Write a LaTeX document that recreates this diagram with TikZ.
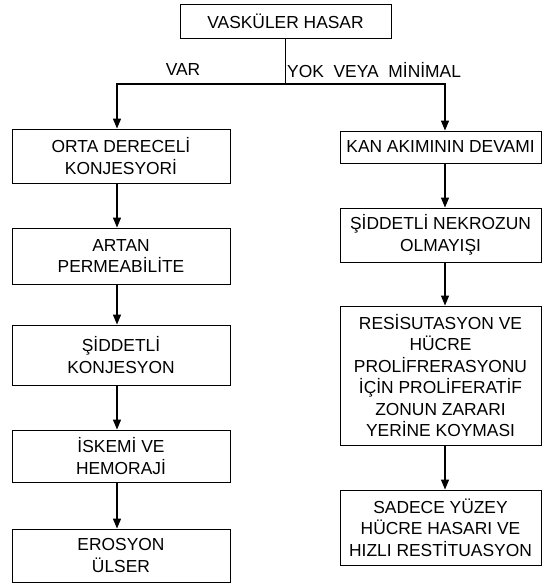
\documentclass[tikz,border=0pt]{standalone}
\usepackage{fontspec}
\setmainfont{Liberation Sans}
\usepackage{tikz}
\usetikzlibrary{arrows.meta}

\begin{document}
\begin{tikzpicture}[x=1pt, y=-1pt,
    >={Triangle[width=8pt,length=10pt]},
    box/.style={draw, rectangle, line width=0.9pt, align=center, inner sep=0pt,
        font=\fontsize{17.4}{21.5}\selectfont},
    lbl/.style={font=\fontsize{17.4}{21}\selectfont, inner sep=0pt},
    conn/.style={->, line width=1.3pt}]
    % Vaskuler hasar akis semasi
    \useasboundingbox (0,0) rectangle (545,588);

    \node (top) at (285.5,21) [box, minimum width=211pt, minimum height=34pt] {VASKÜLER HASAR};

    \node (l1) at (121,156) [box, minimum width=218pt, minimum height=54pt] {ORTA DERECELİ\\KONJESYORİ};
    \node (l2) at (121,256) [box, minimum width=218pt, minimum height=56pt] {ARTAN\\PERMEABİLİTE};
    \node (l3) at (121,355) [box, minimum width=218pt, minimum height=60pt] {ŞİDDETLİ\\KONJESYON};
    \node (l4) at (121,456) [box, minimum width=218pt, minimum height=52pt] {İSKEMİ VE\\HEMORAJİ};
    \node (l5) at (121,555.5) [box, minimum width=218pt, minimum height=53pt] {EROSYON\\ÜLSER};

    \node (r1) at (440.5,147) [box, minimum width=201pt, minimum height=32pt] {KAN AKIMININ DEVAMI};
    \node (r2) at (440.5,235) [box, minimum width=201pt, minimum height=54pt] {ŞİDDETLİ NEKROZUN\\OLMAYIŞI};
    \node (r3) at (440.5,375.5) [box, minimum width=201pt, minimum height=139pt] {RESİSUTASYON VE\\HÜCRE\\PROLİFRERASYONU\\İÇİN PROLİFERATİF\\ZONUN ZARARI\\YERİNE KOYMASI};
    \node (r4) at (440.5,527.5) [box, minimum width=201pt, minimum height=75pt] {SADECE YÜZEY\\HÜCRE HASARI VE\\HIZLI RESTİTUASYON};

    \node (var) at (183,70) [lbl] {VAR};
    \node (yok) at (287,70) [lbl, anchor=west] {YOK\ \ VEYA\ \ MİNİMAL};

    \coordinate (split) at (285.5,84);
    \draw [line width=1.1pt] (top) -- (split);
    \draw [conn] (split) -| ([xshift=-4pt]l1.north);
    \draw [conn] (split) -| ([xshift=4.5pt]r1.north);

    \draw [conn] ([xshift=-4pt]l1.south) -- ([xshift=-4pt]l2.north);
    \draw [conn] ([xshift=-4pt]l2.south) -- ([xshift=-4pt]l3.north);
    \draw [conn] ([xshift=-4pt]l3.south) -- ([xshift=-4pt]l4.north);
    \draw [conn] ([xshift=-4pt]l4.south) -- ([xshift=-4pt]l5.north);

    \draw [conn] ([xshift=4.5pt]r1.south) -- ([xshift=4.5pt]r2.north);
    \draw [conn] ([xshift=4.5pt]r2.south) -- ([xshift=4.5pt]r3.north);
    \draw [conn] ([xshift=4.5pt]r3.south) -- ([xshift=4.5pt]r4.north);
\end{tikzpicture}
\end{document}
